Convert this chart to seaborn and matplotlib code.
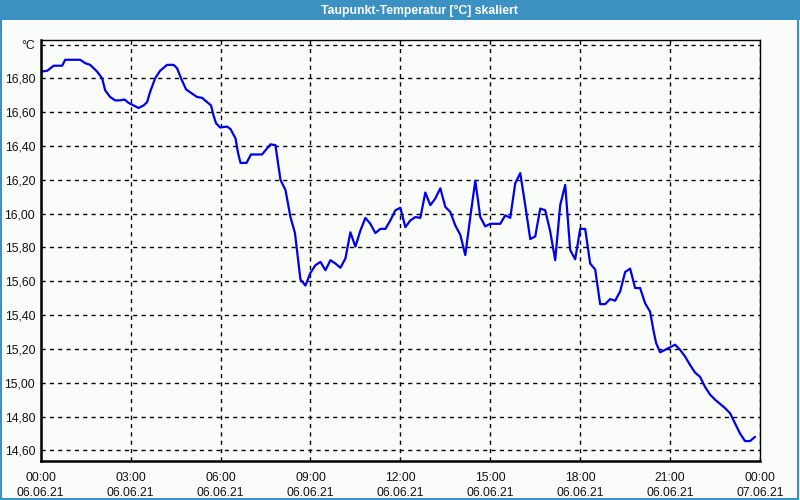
import matplotlib
matplotlib.use("Agg")
import matplotlib.pyplot as plt
import seaborn as sns
import pandas as pd
from matplotlib.patches import Rectangle
from matplotlib.ticker import FixedLocator

# ---- data ----
minutes = [0, 13, 26, 43, 49, 79, 89, 99, 113, 123, 129, 139, 149, 159, 168, 176, 186, 196, 206, 213,
           219, 229, 239, 253, 266, 273, 281, 291, 303, 313, 323, 333, 341, 346, 351, 359, 373, 380, 390, 395,
           400, 412, 421, 443, 450, 460, 470, 475, 480, 490, 500, 509, 513, 520, 530, 540, 550, 560, 570, 580,
           590, 600, 610, 620, 630, 640, 650, 660, 670, 680, 690, 700, 710, 720, 730, 740, 750, 760, 770, 780,
           790, 800, 810, 820, 830, 840, 850, 860, 870, 880, 890, 900, 920, 930, 940, 950, 960, 970, 980, 990,
           1000, 1010, 1020, 1030, 1040, 1050, 1060, 1070, 1080, 1090, 1100, 1110, 1120, 1130, 1140, 1150, 1160,
           1170, 1180, 1190, 1200, 1210, 1220, 1227, 1232, 1240, 1250, 1260, 1270, 1280, 1290, 1300, 1310, 1320,
           1330, 1340, 1350, 1360, 1370, 1380, 1390, 1400, 1410, 1420, 1430]
dewpoint = [16.84, 16.845, 16.875, 16.875, 16.91, 16.91, 16.89, 16.88, 16.84, 16.80, 16.73, 16.69, 16.67, 16.67,
            16.675, 16.655, 16.64, 16.625, 16.64, 16.66, 16.72, 16.80, 16.845, 16.88, 16.88, 16.86, 16.80, 16.735,
            16.71, 16.69, 16.685, 16.66, 16.64, 16.58, 16.535, 16.51, 16.515, 16.50, 16.445, 16.36,
            16.30, 16.30, 16.35, 16.35, 16.375, 16.41, 16.405, 16.30, 16.20, 16.14, 15.98, 15.885, 15.785, 15.61,
            15.575, 15.65, 15.695, 15.715, 15.665, 15.725, 15.705, 15.68, 15.735, 15.89, 15.805, 15.90, 15.975,
            15.94, 15.885, 15.91, 15.91, 15.96, 16.02, 16.035, 15.92, 15.96, 15.98, 15.975, 16.125, 16.05,
            16.09, 16.15, 16.04, 16.01, 15.93, 15.875, 15.755, 15.98, 16.195, 15.98, 15.925, 15.94, 15.94, 15.99,
            15.975, 16.18, 16.24, 16.05, 15.85, 15.865, 16.03, 16.02, 15.895, 15.725, 16.05, 16.17, 15.785, 15.73,
            15.91, 15.91, 15.705, 15.67, 15.465, 15.465, 15.495, 15.485, 15.54, 15.655, 15.675, 15.56, 15.56,
            15.47, 15.42, 15.305, 15.235, 15.18, 15.195, 15.21, 15.225, 15.195, 15.155, 15.105, 15.06, 15.035,
            14.975, 14.93, 14.90, 14.875, 14.85, 14.82, 14.76, 14.70, 14.655, 14.655, 14.68]

x_tick_minutes = [0, 180, 360, 540, 720, 900, 1080, 1260, 1440]
x_tick_labels = ["00:00\n06.06.21", "03:00\n06.06.21", "06:00\n06.06.21", "09:00\n06.06.21",
                 "12:00\n06.06.21", "15:00\n06.06.21", "18:00\n06.06.21", "21:00\n06.06.21",
                 "00:00\n07.06.21"]
y_ticks = [14.6, 14.8, 15.0, 15.2, 15.4, 15.6, 15.8, 16.0, 16.2, 16.4, 16.6, 16.8, 17.0]
y_tick_labels = ["14,60", "14,80", "15,00", "15,20", "15,40", "15,60", "15,80", "16,00",
                 "16,20", "16,40", "16,60", "16,80", "°C"]
title = "Taupunkt-Temperatur [°C] skaliert"

df = pd.DataFrame({"Minuten": minutes, "Taupunkt": dewpoint})

sns.set_style("white")
plt.rcParams["font.family"] = ["Liberation Sans", "DejaVu Sans"]

bg = "#fafcfa"
blue_bar = "#3c91c3"

fig = plt.figure(figsize=(8, 5), dpi=100, facecolor=bg)
ax = fig.add_axes([40.7 / 800, 1 - 460.7 / 500, (760 - 40.7) / 800, (460.7 - 40) / 500])
ax.set_facecolor(bg)

sns.lineplot(data=df, x="Minuten", y="Taupunkt", ax=ax, color="#0000f0", linewidth=1.6)

ax.set_xlim(0, 1440)
ax.set_ylim(14.539, 17.027)
ax.set_xticks(x_tick_minutes)
ax.set_xticklabels(x_tick_labels, fontsize=8.8, linespacing=1.35)
ax.xaxis.set_minor_locator(FixedLocator([m for m in range(60, 1440, 60) if m % 180 != 0]))
ax.set_yticks(y_ticks)
ax.set_yticklabels(y_tick_labels, fontsize=8.8)
ax.tick_params(axis="x", which="major", length=0, pad=8, colors="#111111")
ax.tick_params(axis="x", which="minor", length=3, width=1, direction="out", color="black")
ax.tick_params(axis="y", length=0, pad=4, colors="#111111")
ax.set_xlabel("")
ax.set_ylabel("")

ax.grid(True, which="major", color="black", linestyle=(0, (3, 3)), linewidth=1)

for side in ["left", "bottom"]:
    ax.spines[side].set_linewidth(1.8)
    ax.spines[side].set_color("black")
for side in ["top", "right"]:
    ax.spines[side].set_linewidth(1.0)
    ax.spines[side].set_color("black")

# title bar
fig.patches.append(Rectangle((0, 1 - 20 / 500), 1, 20 / 500, transform=fig.transFigure,
                             facecolor=blue_bar, edgecolor="none", zorder=0))
fig.text(0.524, 1 - 10.5 / 500, title, color="white", fontsize=8.8, fontweight="bold",
         ha="center", va="center")
# window border
fig.patches.append(Rectangle((0.001, 0.002), 0.997, 0.996, transform=fig.transFigure,
                             facecolor="none", edgecolor=blue_bar, linewidth=1.5, zorder=5))

fig.savefig("out.png", dpi=100, facecolor=bg)
